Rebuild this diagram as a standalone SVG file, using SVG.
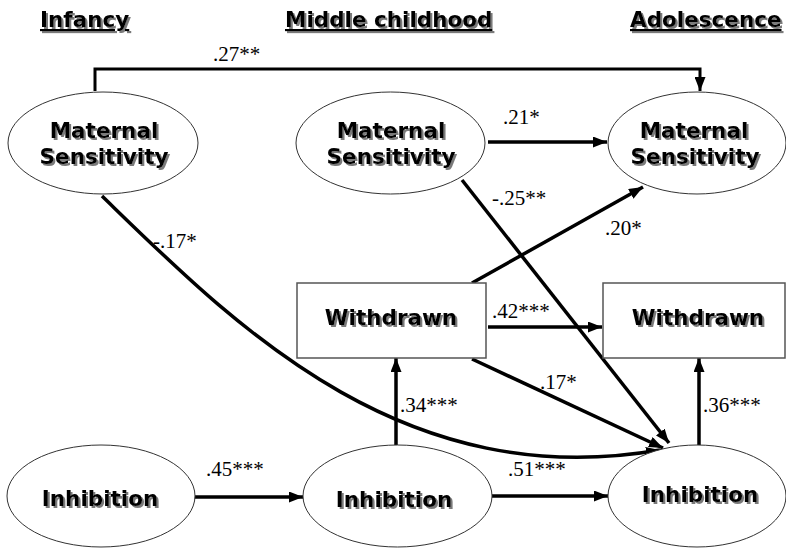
<svg xmlns="http://www.w3.org/2000/svg" width="786" height="548" viewBox="0 0 786 548">
<defs>
<marker id="ah" markerUnits="userSpaceOnUse" markerWidth="14" markerHeight="11" refX="14" refY="5.5" orient="auto">
<path d="M0,0 L14,5.5 L0,11 z" fill="#000"/>
</marker>
<filter id="sh" x="-10%" y="-30%" width="130%" height="160%">
<feDropShadow dx="2" dy="2" stdDeviation="0.7" flood-color="#7a7a7a" flood-opacity="1"/>
</filter>
</defs>
<style>
.nt{font-family:"DejaVu Sans","Liberation Sans",sans-serif;font-weight:bold;font-size:21.5px;fill:#000;text-anchor:middle;filter:url(#sh)}
.hd{font-family:"DejaVu Sans","Liberation Sans",sans-serif;font-weight:bold;font-size:21.5px;fill:#000;text-decoration:underline;filter:url(#sh)}
.el{fill:#fff;stroke:#333;stroke-width:1}
.bx{fill:#fff;stroke:#555;stroke-width:1.5}
.cn{fill:none;stroke:#000;stroke-width:3.5;marker-end:url(#ah)}
.lb{font-family:"Liberation Serif","Times New Roman",serif;font-size:21px;fill:#000}
</style>
<rect width="786" height="548" fill="#fff"/>
<g id="headers">
<text class="hd" x="40" y="27">Infancy</text>
<text class="hd" x="285" y="27">Middle childhood</text>
<text class="hd" x="630" y="27">Adolescence</text>
</g>
<g id="connectors">
<path class="cn" d="M95,91 V69 H700 V91" style="stroke-width:3"/>
<path class="cn" d="M488,142 H607"/>
<path class="cn" d="M462,180 L669,443"/>
<path class="cn" d="M472,283 L643,187"/>
<path class="cn" d="M488,327 H602"/>
<path class="cn" d="M472,359 L663,448"/>
<path class="cn" d="M396,445 V358"/>
<path class="cn" d="M699,445 V358"/>
<path class="cn" d="M194,497 H303"/>
<path class="cn" d="M492,496 H608"/>
<path class="cn" d="M102,196 C232,322 400,495 660,450"/>
<text class="lb" x="213" y="61">.27**</text>
<text class="lb" x="503" y="124">.21*</text>
<text class="lb" x="492" y="205">-.25**</text>
<text class="lb" x="605" y="235">.20*</text>
<text class="lb" x="153" y="248">-.17*</text>
<text class="lb" x="492" y="318">.42***</text>
<text class="lb" x="540" y="389">.17*</text>
<text class="lb" x="400" y="412">.34***</text>
<text class="lb" x="703" y="412">.36***</text>
<text class="lb" x="206" y="476">.45***</text>
<text class="lb" x="508" y="476">.51***</text>
</g>
<g id="ms-infancy">
<ellipse class="el" cx="103" cy="143" rx="95" ry="51"/>
<text class="nt" x="104" y="138">Maternal</text>
<text class="nt" x="104" y="164">Sensitivity</text>
</g>
<g id="ms-middle">
<ellipse class="el" cx="390.5" cy="143" rx="94.5" ry="51"/>
<text class="nt" x="391" y="138">Maternal</text>
<text class="nt" x="391" y="164">Sensitivity</text>
</g>
<g id="ms-adolescence">
<ellipse class="el" cx="697" cy="143" rx="89" ry="51"/>
<text class="nt" x="694" y="138">Maternal</text>
<text class="nt" x="695" y="164">Sensitivity</text>
</g>
<g id="withdrawn-middle">
<rect class="bx" x="297" y="283" width="189" height="75"/>
<text class="nt" x="391" y="325">Withdrawn</text>
</g>
<g id="withdrawn-adolescence">
<rect class="bx" x="603" y="283" width="182" height="75"/>
<text class="nt" x="698" y="325">Withdrawn</text>
</g>
<g id="inhibition-infancy">
<ellipse class="el" cx="101" cy="496" rx="94" ry="51"/>
<text class="nt" x="100" y="506">Inhibition</text>
</g>
<g id="inhibition-middle">
<ellipse class="el" cx="397.5" cy="496" rx="94.5" ry="51"/>
<text class="nt" x="394" y="507">Inhibition</text>
</g>
<g id="inhibition-adolescence">
<ellipse class="el" cx="697" cy="496" rx="89" ry="51"/>
<text class="nt" x="700" y="502">Inhibition</text>
</g>
</svg>
